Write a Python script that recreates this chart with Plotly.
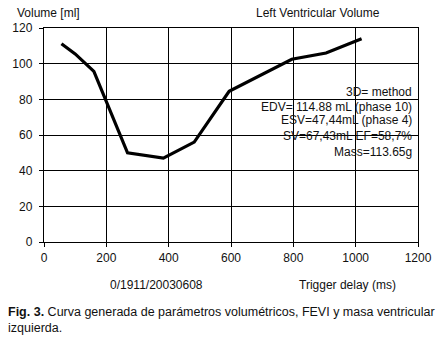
import plotly.graph_objects as go

# Data
trigger_delay_ms = [56, 100, 160, 268, 383, 482, 594, 795, 905, 1019]
volume_ml = [111.2, 105.5, 95.7, 50.0, 47.0, 56.0, 84.5, 102.5, 106.0, 114.0]

x_ticks = [0, 200, 400, 600, 800, 1000, 1200]
y_ticks = [0, 20, 40, 60, 80, 100, 120]

info_lines = [
    "3D= method",
    "EDV= 114.88 mL (phase 10)",
    "ESV=47,44mL (phase 4)",
    "SV=67,43mL EF=58,7%",
    "Mass=113.65g",
]

W, H = 444, 343
L, R, T, B = 39, 21, 28, 101
PW, PH = W - L - R, H - T - B

def px(x):
    return (x - L) / PW

def py(y):
    return (H - B - y) / PH

FONT = "Liberation Sans, Arial, sans-serif"

fig = go.Figure()
fig.add_trace(go.Scatter(
    x=trigger_delay_ms, y=volume_ml, mode="lines",
    line=dict(color="black", width=3.2), showlegend=False,
))

axis_common = dict(
    showgrid=True, gridcolor="black", gridwidth=1.4,
    showline=True, linecolor="black", linewidth=1.4, mirror=True,
    ticks="outside", ticklen=4, tickwidth=1.4, tickcolor="black",
    zeroline=False,
    tickfont=dict(family=FONT, size=12, color="#111"),
)

fig.update_xaxes(range=[0, 1200], tickvals=x_ticks, **axis_common)
fig.update_yaxes(range=[0, 120], tickvals=y_ticks, ticklabelstandoff=4, **axis_common)

anns = []
anns.append(dict(text="Volume [ml]", x=px(44), y=py(13), xanchor="center", yanchor="middle"))
anns.append(dict(text="Left Ventricular Volume", x=px(320), y=py(13), xanchor="center", yanchor="middle"))
line_y = [91.5, 107, 120.5, 135.5, 151.5]
for t, yy in zip(info_lines, line_y):
    anns.append(dict(text=t, x=px(419), y=py(yy), xanchor="right", yanchor="middle"))
anns.append(dict(text="0/1911/20030608", x=px(155), y=py(285), xanchor="center", yanchor="middle"))
anns.append(dict(text="Trigger delay (ms)", x=px(351), y=py(285), xanchor="center", yanchor="middle"))
for a in anns:
    a.update(xref="paper", yref="paper", showarrow=False,
             font=dict(family=FONT, size=12, color="#111"))
fig.add_annotation(
    text="<b>Fig. 3.</b> Curva generada de parámetros volumétricos, FEVI y masa ventricular<br>izquierda.",
    x=px(0), y=py(303), xref="paper", yref="paper", xanchor="left", yanchor="top",
    align="left", showarrow=False,
    font=dict(family=FONT, size=12.5, color="#111"),
)
for a in anns:
    fig.add_annotation(**a)

fig.update_layout(
    width=W, height=H,
    margin=dict(l=L, r=R, t=T, b=B, pad=0),
    paper_bgcolor="white", plot_bgcolor="white",
    showlegend=False,
)

fig.write_html("out.html", config={"displayModeBar": False},
               post_script="document.body.style.margin='0';")
